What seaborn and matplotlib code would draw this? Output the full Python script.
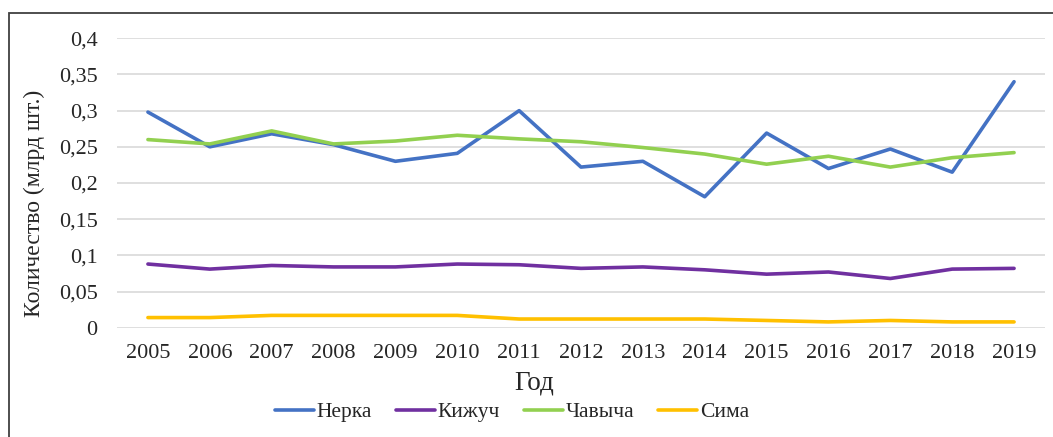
import matplotlib
matplotlib.use("Agg")
import matplotlib.pyplot as plt
import matplotlib.patches as mpatches
import seaborn as sns
import pandas as pd

years = list(range(2005, 2020))
nerka = [0.298, 0.250, 0.268, 0.253, 0.230, 0.241, 0.300, 0.222, 0.230, 0.181,
         0.269, 0.220, 0.247, 0.215, 0.340]
kizhuch = [0.088, 0.081, 0.086, 0.084, 0.084, 0.088, 0.087, 0.082, 0.084, 0.080,
           0.074, 0.077, 0.068, 0.081, 0.082]
chavycha = [0.260, 0.254, 0.272, 0.254, 0.258, 0.266, 0.261, 0.257, 0.249, 0.240,
            0.226, 0.237, 0.222, 0.235, 0.242]
sima = [0.014, 0.014, 0.017, 0.017, 0.017, 0.017, 0.012, 0.012, 0.012, 0.012,
        0.010, 0.008, 0.010, 0.008, 0.008]

series_names = ["Нерка", "Кижуч", "Чавыча", "Сима"]
series_values = [nerka, kizhuch, chavycha, sima]
colors = ["#4472C4", "#7030A0", "#92D050", "#FFC000"]
y_ticks = [0, 0.05, 0.1, 0.15, 0.2, 0.25, 0.3, 0.35, 0.4]
y_tick_labels = ["0", "0,05", "0,1", "0,15", "0,2", "0,25", "0,3", "0,35", "0,4"]

rows = []
for name, vals in zip(series_names, series_values):
    for i, v in enumerate(vals):
        rows.append({"pos": i, "Вид": name, "value": v})
df = pd.DataFrame(rows)

sns.set_theme(style="white")
plt.rcParams["font.family"] = ["Liberation Serif", "DejaVu Serif"]

W, H = 1053, 437
fig = plt.figure(figsize=(W / 100, H / 100), dpi=100)
ax = fig.add_axes([117 / W, 1 - 327.7 / H, (1045 - 117) / W, (327.7 - 38.3) / H])

# outer frame around the chart area
fig.patches.append(mpatches.Rectangle((9 / W, -0.05), 1.1, 1 - 13 / H + 0.05,
                                      transform=fig.transFigure, fill=False,
                                      edgecolor="#404040", linewidth=1.3, zorder=0))

sns.lineplot(data=df, x="pos", y="value", hue="Вид", hue_order=series_names,
             palette=colors, linewidth=2.6, ax=ax, legend=False)

ax.set_xlim(-0.5, len(years) - 0.5)
ax.set_ylim(0, 0.4)
ax.set_yticks(y_ticks)
ax.set_yticklabels(y_tick_labels, fontsize=16)
ax.set_xticks(range(len(years)))
ax.set_xticklabels([str(y) for y in years], fontsize=16)
ax.tick_params(axis="x", length=0, pad=12)
ax.tick_params(axis="y", length=0, pad=14)
ax.grid(axis="y", color="#d9d9d9", linewidth=1.2)
ax.set_axisbelow(True)
for s in ax.spines.values():
    s.set_visible(False)

ax.set_xlabel("Год", fontsize=19.5)
ax.xaxis.set_label_coords((534 - 117) / (1045 - 117), 1 - (383 - 38.3) / (327.7 - 38.3))
ax.xaxis.label.set_verticalalignment("center")
ax.set_ylabel("Количество (млрд шт.)", fontsize=17)
ax.yaxis.set_label_coords((34 - 117) / (1045 - 117), (327.7 - 203) / (327.7 - 38.3))
ax.yaxis.label.set_verticalalignment("center")

handles = [plt.Line2D([], [], color=c, linewidth=2.6) for c in colors]
fig.legend(handles, series_names, loc="center", bbox_to_anchor=(512 / W, 1 - 412 / H),
           ncol=4, frameon=False, fontsize=15.5, handlelength=1.8, handletextpad=0.15,
           columnspacing=1.1)

fig.savefig("out.png", dpi=100)
